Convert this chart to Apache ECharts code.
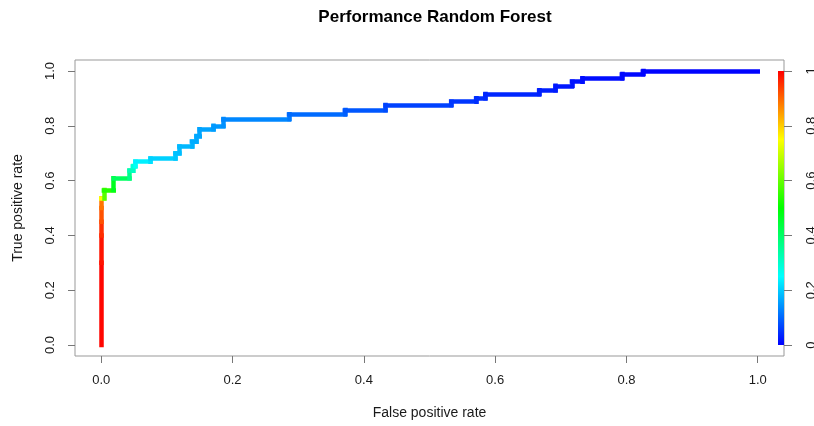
<!DOCTYPE html>
<html>
<head>
<meta charset="utf-8">
<script src="https://cdn.jsdelivr.net/npm/echarts@6/dist/echarts.min.js"></script>
<style>html,body{margin:0;padding:0;background:#fff}#c{width:814px;height:426px}</style>
</head>
<body>
<div id="c"></div>
<script>
// ROC curve vertices (step path)
const fpr = [0, 0, 0, 0, 0, 0, 0.004, 0.004, 0.019, 0.019, 0.043, 0.043, 0.048, 0.048, 0.052, 0.052,
  0.075, 0.075, 0.113, 0.113, 0.119, 0.119, 0.138, 0.138, 0.145, 0.145, 0.150, 0.150, 0.171, 0.171,
  0.186, 0.186, 0.286, 0.286, 0.371, 0.371, 0.433, 0.433, 0.533, 0.533, 0.571, 0.571, 0.585, 0.585,
  0.667, 0.667, 0.692, 0.692, 0.717, 0.717, 0.733, 0.733, 0.793, 0.793, 0.825, 0.825, 1.000];
const tpr = [0, 0.30, 0.40, 0.45, 0.50, 0.535, 0.535, 0.566, 0.566, 0.609, 0.609, 0.636, 0.636, 0.653, 0.653, 0.669,
  0.669, 0.681, 0.681, 0.700, 0.700, 0.724, 0.724, 0.742, 0.742, 0.763, 0.763, 0.787, 0.787, 0.800,
  0.800, 0.825, 0.825, 0.842, 0.842, 0.858, 0.858, 0.876, 0.876, 0.888, 0.888, 0.900, 0.900, 0.916,
  0.916, 0.930, 0.930, 0.946, 0.946, 0.961, 0.961, 0.973, 0.973, 0.989, 0.989, 1.000, 1.000];
// estimated cutoff at each vertex (drives the colour)
const cutoff = [1.00, 0.99, 0.97, 0.94, 0.90, 0.87, 0.62, 0.55, 0.52, 0.42, 0.40, 0.33, 0.32, 0.30, 0.28, 0.24,
  0.23, 0.21, 0.20, 0.19, 0.19, 0.18, 0.18, 0.17, 0.17, 0.165, 0.165, 0.16, 0.16, 0.15,
  0.15, 0.135, 0.13, 0.11, 0.10, 0.09, 0.08, 0.07, 0.06, 0.055, 0.05, 0.045, 0.045, 0.04,
  0.035, 0.03, 0.03, 0.025, 0.02, 0.02, 0.015, 0.015, 0.01, 0.01, 0.005, 0.005, 0.0];
const axisTicks = [0, 0.2, 0.4, 0.6, 0.8, 1.0];
const colorKeyTicks = [0, 0.2, 0.4, 0.6, 0.8, 1.0];
const colorKeyRange = [1];

function rainbow(c) {
  c = Math.max(0, Math.min(1, c));
  const h = (1 - c) * 240 / 60;
  const i = Math.floor(h), f = h - i;
  let r, g, b;
  switch (i) {
    case 0: r = 1; g = f; b = 0; break;
    case 1: r = 1 - f; g = 1; b = 0; break;
    case 2: r = 0; g = 1; b = f; break;
    case 3: r = 0; g = 1 - f; b = 1; break;
    default: r = f; g = 0; b = 1;
  }
  const to = v => Math.round(v * 255);
  return 'rgb(' + to(r) + ',' + to(g) + ',' + to(b) + ')';
}

const segments = [];
for (let i = 0; i < fpr.length - 1; i++) {
  segments.push({
    coords: [[fpr[i], tpr[i]], [fpr[i + 1], tpr[i + 1]]],
    lineStyle: { color: rainbow((cutoff[i] + cutoff[i + 1]) / 2) }
  });
}

const stops = [];
for (let k = 0; k <= 20; k++) stops.push({ offset: k / 20, color: rainbow(k / 20) });

const FONT = "'Liberation Sans', Arial, sans-serif";
const labelStyle = { color: '#1a1a1a', fontFamily: FONT, fontSize: 13 };
const tickStyle = { lineStyle: { color: '#777', width: 1 } };

const chart = echarts.init(document.getElementById('c'), null, { renderer: 'canvas' });
chart.setOption({
  animation: false,
  backgroundColor: '#fff',
  title: {
    text: 'Performance Random Forest', left: 430, top: 4, textAlign: 'center',
    textStyle: { fontFamily: FONT, fontSize: 17, fontWeight: 'bold', color: '#000' }
  },
  grid: [
    { left: 75, right: 30, top: 60, bottom: 70, show: true, borderColor: '#999', borderWidth: 1,
      backgroundColor: 'transparent', containLabel: false, outerBoundsMode: 'none' },
    { left: 778, width: 6, top: 60, bottom: 70, show: false, containLabel: false, outerBoundsMode: 'none' }
  ],
  xAxis: [
    {
      type: 'value', gridIndex: 0, min: -0.04, max: 1.04, position: 'bottom',
      axisLine: { show: false, onZero: false }, splitLine: { show: false },
      axisTick: Object.assign({ show: true, length: 7, customValues: axisTicks }, tickStyle),
      axisLabel: Object.assign({ margin: 18, customValues: axisTicks, formatter: v => v.toFixed(1) }, labelStyle),
      name: 'False positive rate', nameLocation: 'middle', nameGap: 50,
      nameTextStyle: { fontFamily: FONT, fontSize: 14, color: '#1a1a1a' }
    },
    {
      type: 'category', gridIndex: 1, data: ['key'], show: false
    }
  ],
  yAxis: [
    {
      type: 'value', gridIndex: 0, min: -0.04, max: 1.04, position: 'left',
      axisLine: { show: false, onZero: false }, splitLine: { show: false },
      axisTick: Object.assign({ show: true, length: 7, customValues: axisTicks }, tickStyle),
      axisLabel: Object.assign({ margin: 18, rotate: 90, customValues: axisTicks, formatter: v => v.toFixed(1) }, labelStyle),
      name: 'True positive rate', nameLocation: 'middle', nameGap: 50,
      nameTextStyle: { fontFamily: FONT, fontSize: 14, color: '#1a1a1a' }
    },
    {
      type: 'value', gridIndex: 1, position: 'right', min: -0.04, max: 1.04,
      axisLine: { show: false, onZero: false }, splitLine: { show: false },
      axisTick: Object.assign({ show: true, length: 8, customValues: colorKeyTicks }, tickStyle),
      axisLabel: Object.assign({ margin: 21, rotate: 90, customValues: colorKeyTicks,
        formatter: v => (v === 0 || v === 1) ? String(v) : v.toFixed(1) }, labelStyle)
    }
  ],
  series: [
    {
      type: 'lines', coordinateSystem: 'cartesian2d', xAxisIndex: 0, yAxisIndex: 0,
      polyline: false, silent: true,
      lineStyle: { width: 4.5, opacity: 1, cap: 'square', join: 'miter' },
      data: segments
    },
    {
      type: 'bar', xAxisIndex: 1, yAxisIndex: 1, barWidth: '100%', silent: true,
      itemStyle: { color: new echarts.graphic.LinearGradient(0, 1, 0, 0, stops) },
      data: colorKeyRange
    }
  ]
});
</script>
</body>
</html>
